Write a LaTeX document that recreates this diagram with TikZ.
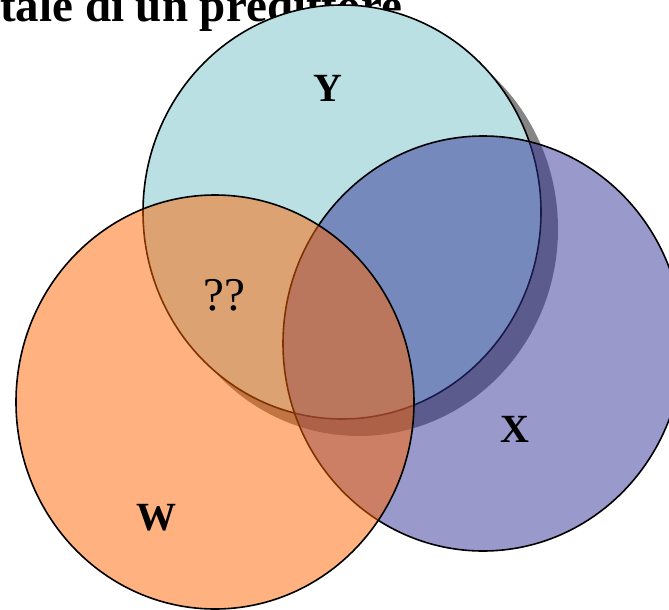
\documentclass[tikz,border=0pt]{standalone}
\usepackage{fontspec}
\setmainfont{Liberation Serif}
\usetikzlibrary{math}
\definecolor{ycyan}{RGB}{186,224,227}
\definecolor{xpurple}{RGB}{51,51,153}
\definecolor{worange}{RGB}{255,102,0}
\tikzset{
  setedge/.style={draw=black, line width=1.6pt},
  setlabel/.style={anchor=base, font=\fontsize{40}{44}\selectfont\bfseries},
}
\begin{document}
\begin{tikzpicture}[x=1pt,y=-1pt]
\tikzmath{
\rx=199;
\ry=207;
\sh=17;
}
\useasboundingbox (0,0) rectangle (669,610);

\coordinate (Yc) at (342,212);
\coordinate (Xc) at (483,343.5);
\coordinate (Wc) at (215,402);

% title, partly hidden by the sets
\node[anchor=base west, inner sep=0pt, font=\fontsize{47}{50}\selectfont\bfseries] (title) at (0,22) {tale di un predittore};

% Y with its shadow
\fill[black, opacity=0.48] ([shift={(\sh,\sh)}]Yc) ellipse [x radius=\rx, y radius=\ry];
\fill[ycyan] (Yc) ellipse [x radius=\rx, y radius=\ry];
\draw[setedge] (Yc) ellipse [x radius=\rx, y radius=\ry];

% X and W, see-through
\draw[setedge, fill=xpurple, fill opacity=0.5] (Xc) ellipse [x radius=200, y radius=207.5];
\draw[setedge, fill=worange, fill opacity=0.5] (Wc) ellipse [x radius=\rx, y radius=\ry];

\node[setlabel] (ylab) at (328,101) {Y};
\node[setlabel] (xlab) at (515,442) {X};
\node[setlabel] (wlab) at (156,530) {W};
\node[anchor=base, font=\fontsize{47}{50}\selectfont] (qlab) at (224.5,310) {??};
\end{tikzpicture}
\end{document}
